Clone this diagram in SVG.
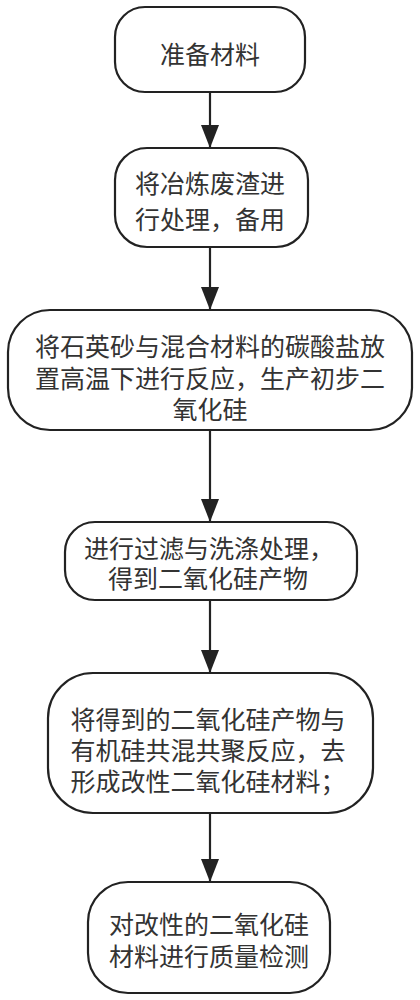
<svg xmlns="http://www.w3.org/2000/svg" width="420" height="1000" viewBox="0 0 420 1000">
<style>
.box{fill:#fff;stroke:#222;stroke-width:2.2}
.t{font-family:"Noto Sans CJK SC","Noto Sans",sans-serif;font-size:25px;fill:#333;text-anchor:middle;dominant-baseline:central}
.c{stroke:#222;stroke-width:2.2;fill:none}
</style>
<defs>
<marker id="ah" markerUnits="userSpaceOnUse" markerWidth="24" markerHeight="18" refX="23" refY="9" orient="auto" viewBox="0 0 24 18">
<path d="M0,0 L23,9 L0,18 Z" fill="#222"/>
</marker>
</defs>
<rect width="420" height="1000" fill="#fff"/>
<g id="connectors">
<line class="c" x1="210" y1="92" x2="210" y2="148" marker-end="url(#ah)"/>
<line class="c" x1="210" y1="247" x2="210" y2="310" marker-end="url(#ah)"/>
<line class="c" x1="210" y1="430" x2="210" y2="522" marker-end="url(#ah)"/>
<line class="c" x1="210" y1="600" x2="210" y2="673" marker-end="url(#ah)"/>
<line class="c" x1="210" y1="813" x2="210" y2="882" marker-end="url(#ah)"/>
</g>
<g id="n1">
<rect class="box" x="115" y="7" width="190" height="85" rx="30" ry="30"/>
<text class="t" x="210" y="53">准备材料</text>
</g>
<g id="n2">
<rect class="box" x="115" y="148" width="193" height="99" rx="32" ry="32"/>
<text class="t"><tspan x="210" y="182">将冶炼废渣进</tspan><tspan x="210" y="218">行处理，备用</tspan></text>
</g>
<g id="n3">
<rect class="box" x="8" y="310" width="404" height="120" rx="42" ry="42"/>
<text class="t"><tspan x="210" y="345">将石英砂与混合材料的碳酸盐放</tspan><tspan x="210" y="377">置高温下进行反应，生产初步二</tspan><tspan x="210" y="408">氧化硅</tspan></text>
</g>
<g id="n4">
<rect class="box" x="65" y="522" width="292" height="78" rx="30" ry="30"/>
<text class="t"><tspan x="209" y="547">进行过滤与洗涤处理，</tspan><tspan x="208" y="577">得到二氧化硅产物</tspan></text>
</g>
<g id="n5">
<rect class="box" x="48" y="673" width="325" height="140" rx="45" ry="45"/>
<text class="t"><tspan x="208" y="718">将得到的二氧化硅产物与</tspan><tspan x="208" y="749">有机硅共混共聚反应，去</tspan><tspan x="208" y="780">形成改性二氧化硅材料；</tspan></text>
</g>
<g id="n6">
<rect class="box" x="88" y="882" width="242" height="111" rx="40" ry="40"/>
<text class="t"><tspan x="209" y="923">对改性的二氧化硅</tspan><tspan x="209" y="955">材料进行质量检测</tspan></text>
</g>
</svg>
